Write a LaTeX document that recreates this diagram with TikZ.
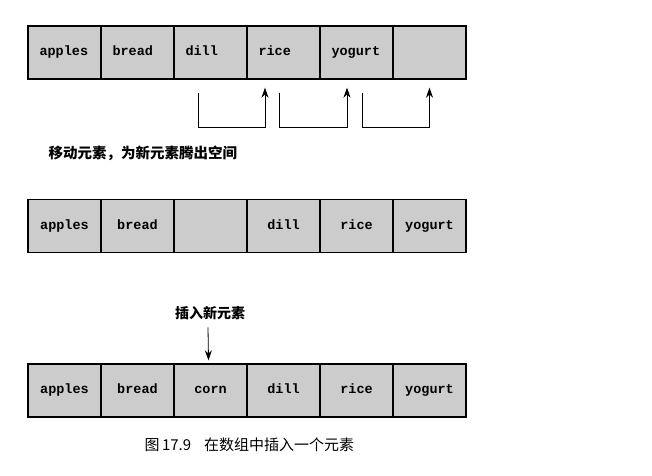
\documentclass[tikz,border=0pt]{standalone}
\usepackage{fontspec}
\setmonofont{Liberation Mono}
\newfontfamily\cjk{Noto Sans CJK SC}
\usetikzlibrary{arrows.meta}

\begin{document}
\begin{tikzpicture}[x=1pt,y=-1pt,
  cell/.style={draw, line width=1.4pt, fill=gray!40, minimum width=73pt,
    minimum height=53pt, inner sep=0pt, text height=9pt, text depth=3pt,
    font=\ttfamily\bfseries\fontsize{13.5}{15}\selectfont},
  leftcell/.style={cell, text width=50pt, align=left},
  move/.style={line width=0.8pt, -{Stealth[length=10pt,width=7pt]}},
  lbl/.style={font=\cjk\bfseries\fontsize{14.5}{16}\selectfont}]
\useasboundingbox (0,0) rectangle (652,475);

% row 1: before the shift
\foreach \name/\txt [count=\i] in {a1/apples,a2/bread,a3/dill,a4/rice,a5/yogurt,a6/{}}
  \node [leftcell] (\name) at (64.5+73*\i-73,52.5) {\txt};

\foreach \from/\to/\dx/\ex in {a3/a4/-12.5/-18.5, a4/a5/-4/-9.5, a5/a6/6/0}
  \draw [move] ([xshift=\dx pt,yshift=-13pt]\from.south) -- ++(0,35)
    -| ([xshift=\ex pt,yshift=-8pt]\to.south);

\node [lbl, anchor=west] (moveLbl) at (45,153) {移动元素，为新元素腾出空间};

% row 2: gap opened
\foreach \name/\txt [count=\i] in {b1/apples,b2/bread,b3/{},b4/dill,b5/rice,b6/yogurt}
  \node [cell] (\name) at (64.5+73*\i-73,226) {\txt};

% row 3: new element in place
\node [lbl, font=\cjk\bfseries\fontsize{14}{16}\selectfont] (insLbl) at (210,313) {插入新元素};

\foreach \name/\txt [count=\i] in {c1/apples,c2/bread,c3/corn,c4/dill,c5/rice,c6/yogurt}
  \node [cell] (\name) at (64.5+73*\i-73,390.5) {\txt};

\draw [move] ([xshift=-2pt,yshift=-4pt]insLbl.south) -- ([xshift=-2pt,yshift=3pt]c3.north);

\node [anchor=west, font=\cjk\fontsize{15}{17}\selectfont] (caption) at (141,445)
  {图\,17.9\hspace{13pt}在数组中插入一个元素};
\end{tikzpicture}
\end{document}
